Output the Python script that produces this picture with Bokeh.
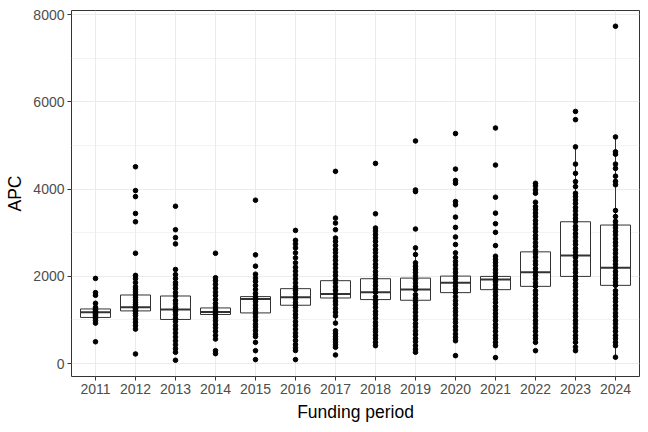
from bokeh.embed import file_html
from bokeh.resources import INLINE
from bokeh.plotting import figure
from bokeh.models import ColumnDataSource, FixedTicker, Range1d

years = ["2011", "2012", "2013", "2014", "2015", "2016", "2017",
         "2018", "2019", "2020", "2021", "2022", "2023", "2024"]

# box statistics
q1 = [1058, 1208, 1012, 1126, 1162, 1338, 1504, 1468, 1452, 1627, 1695, 1771, 1999, 1794]
median = [1178, 1292, 1240, 1185, 1481, 1520, 1595, 1634, 1696, 1855, 1930, 2097, 2477, 2197]
q3 = [1253, 1573, 1550, 1276, 1536, 1718, 1901, 1946, 1960, 2006, 1999, 2562, 3252, 3177]
whisker_lo = [928, 791, 260, 980, 620, 790, 928, 791, 750, 1110, 1310, 650, 296, 146]
whisker_hi = [1383, 2022, 2158, 1470, 2050, 2210, 2450, 2620, 2653, 2539, 2386, 3700, 4969, 5197]

# APC values per funding period
apc_2011 = [501, 928, 985, 1040, 1065, 1094, 1120, 1150, 1170, 1185, 1200, 1230, 1250, 1290, 1383, 1566, 1627, 1953]
apc_2012 = [221, 791, 870, 950, 1020, 1100, 1150, 1200, 1220, 1250, 1270, 1290, 1310, 1350, 1400, 1460, 1520,
            1580, 1641, 1700, 1760, 1855, 1946, 2022, 2530, 3252, 3442, 3829, 3966, 4513]
apc_2013 = [77, 260, 340, 430, 520, 610, 700, 790, 870, 960, 1040, 1120, 1200, 1240, 1290, 1370, 1450, 1550,
            1630, 1720, 1800, 1855, 1950, 2040, 2158, 2744, 2888, 3070, 3608]
apc_2014 = [228, 296, 563, 650, 740, 820, 900, 980, 1050, 1120, 1160, 1190, 1230, 1300, 1380, 1470, 1560, 1640,
            1730, 1820, 1900, 1969, 2530]
apc_2015 = [91, 296, 487, 620, 677, 760, 840, 905, 990, 1070, 1140, 1200, 1260, 1340, 1420, 1470, 1500, 1530,
            1610, 1700, 1790, 1880, 1960, 2050, 2234, 2493, 3747]
apc_2016 = [91, 300, 360, 440, 530, 620, 700, 790, 880, 960, 1050, 1130, 1210, 1290, 1338, 1400, 1480, 1520,
            1600, 1680, 1760, 1850, 1940, 2030, 2120, 2210, 2311, 2425, 2539, 2653, 2744, 2827, 3054]
apc_2017 = [198, 374, 430, 500, 560, 620, 690, 752, 928, 1094, 1180, 1260, 1350, 1430, 1504, 1595, 1680, 1760,
            1850, 1930, 2020, 2100, 2190, 2280, 2370, 2450, 2540, 2620, 2710, 2800, 2880, 3070, 3222, 3337, 4408]
apc_2018 = [410, 490, 570, 650, 730, 791, 870, 950, 1040, 1120, 1200, 1290, 1370, 1450, 1530, 1634, 1710, 1790,
            1870, 1946, 2030, 2110, 2200, 2280, 2370, 2450, 2540, 2620, 2710, 2800, 2880, 2960, 3040, 3109, 3435,
            4590]
apc_2019 = [260, 330, 410, 500, 580, 670, 750, 840, 920, 1010, 1090, 1180, 1260, 1340, 1420, 1500, 1580, 1696,
            1770, 1850, 1930, 2010, 2090, 2160, 2234, 2311, 2500, 2653, 3086, 3943, 3982, 5105]
apc_2020 = [182, 524, 600, 680, 770, 850, 940, 1020, 1110, 1190, 1270, 1360, 1440, 1530, 1627, 1700, 1780, 1855,
            1940, 2006, 2090, 2170, 2260, 2340, 2430, 2539, 2730, 2904, 3123, 3359, 3640, 3715, 4134, 4200, 4460,
            5274]
apc_2021 = [137, 410, 490, 570, 650, 740, 820, 900, 990, 1070, 1150, 1230, 1310, 1400, 1480, 1560, 1640, 1720,
            1800, 1880, 1930, 1999, 2080, 2160, 2240, 2320, 2386, 2462, 2705, 3009, 3207, 3450, 3815, 4552, 5402]
apc_2022 = [296, 487, 570, 650, 740, 820, 910, 990, 1080, 1160, 1250, 1330, 1420, 1500, 1590, 1670, 1771, 1850,
            1940, 2020, 2097, 2180, 2270, 2350, 2440, 2520, 2600, 2690, 2770, 2860, 2940, 3030, 3110, 3200, 3280,
            3370, 3450, 3530, 3601, 3700, 3906, 3982, 4073, 4134]
apc_2023 = [296, 380, 487, 570, 650, 740, 820, 910, 990, 1080, 1160, 1250, 1330, 1420, 1500, 1590, 1670, 1760,
            1840, 1930, 1999, 2090, 2170, 2260, 2340, 2430, 2477, 2560, 2640, 2730, 2810, 2900, 2980, 3070, 3150,
            3252, 3330, 3410, 3500, 3580, 3670, 3750, 3830, 3906, 4058, 4172, 4362, 4574, 4969, 5593, 5782]
apc_2024 = [146, 410, 490, 570, 650, 740, 820, 910, 990, 1080, 1160, 1250, 1330, 1420, 1500, 1590, 1670, 1794,
            1870, 1950, 2030, 2110, 2197, 2280, 2360, 2440, 2530, 2610, 2700, 2780, 2860, 2950, 3030, 3110, 3177,
            3260, 3373, 3510, 4100, 4180, 4298, 4476, 4574, 4802, 4855, 5197, 7735]

apc = [apc_2011, apc_2012, apc_2013, apc_2014, apc_2015, apc_2016, apc_2017,
       apc_2018, apc_2019, apc_2020, apc_2021, apc_2022, apc_2023, apc_2024]

pos = list(range(len(years)))
box_w = 0.75

box = ColumnDataSource(dict(
    x=pos, q1=q1, q3=q3, med=median, lo=whisker_lo, hi=whisker_hi,
    left=[i - box_w / 2 for i in pos], right=[i + box_w / 2 for i in pos],
))
pts = ColumnDataSource(dict(
    x=[i for i, vals in zip(pos, apc) for _ in vals],
    y=[v for vals in apc for v in vals],
))

p = figure(width=640, height=424, output_backend="svg", toolbar_location=None,
           x_range=Range1d(-0.6, 13.6), y_range=Range1d(-296, 8096),
           min_border_left=71, min_border_right=1, min_border_top=10, min_border_bottom=46)
p.background_fill_color = "white"
p.border_fill_color = "white"
p.outline_line_color = "#333333"
p.outline_line_width = 1

# boxplot: whiskers, box, median
p.segment(x0="x", y0="q3", x1="x", y1="hi", source=box, line_color="#333333", line_width=1)
p.segment(x0="x", y0="q1", x1="x", y1="lo", source=box, line_color="#333333", line_width=1)
p.quad(left="left", right="right", bottom="q1", top="q3", source=box,
       fill_color="white", line_color="#333333", line_width=1)
p.segment(x0="left", y0="med", x1="right", y1="med", source=box, line_color="#333333", line_width=2)

p.scatter(x="x", y="y", source=pts, size=4.6, color="black")

p.xaxis.ticker = FixedTicker(ticks=pos)
p.xaxis.major_label_overrides = {i: y for i, y in zip(pos, years)}
p.yaxis.ticker = FixedTicker(ticks=[0, 2000, 4000, 6000, 8000], minor_ticks=[1000, 3000, 5000, 7000])
p.xaxis.axis_label = "Funding period"
p.yaxis.axis_label = "APC"

for ax in (p.xaxis, p.yaxis):
    ax.axis_line_color = None
    ax.major_tick_line_color = "#333333"
    ax.major_tick_in = 0
    ax.major_tick_out = 4
    ax.minor_tick_line_color = None
    ax.major_label_text_color = "#4D4D4D"
    ax.major_label_text_font = "Liberation Sans"
    ax.major_label_text_font_size = "14px"
    ax.major_label_standoff = 3
    ax.axis_label_text_font = "Liberation Sans"
    ax.axis_label_text_font_size = "17.5px"
    ax.axis_label_text_font_style = "normal"
    ax.axis_label_text_color = "black"
    ax.axis_label_standoff = 5

p.xgrid.grid_line_color = "#EBEBEB"
p.ygrid.grid_line_color = "#EBEBEB"
p.xgrid.grid_line_width = 1
p.ygrid.grid_line_width = 1
p.ygrid.minor_grid_line_color = "#EBEBEB"
p.ygrid.minor_grid_line_width = 0.6

open("out.html", "w").write(file_html(p, INLINE))
